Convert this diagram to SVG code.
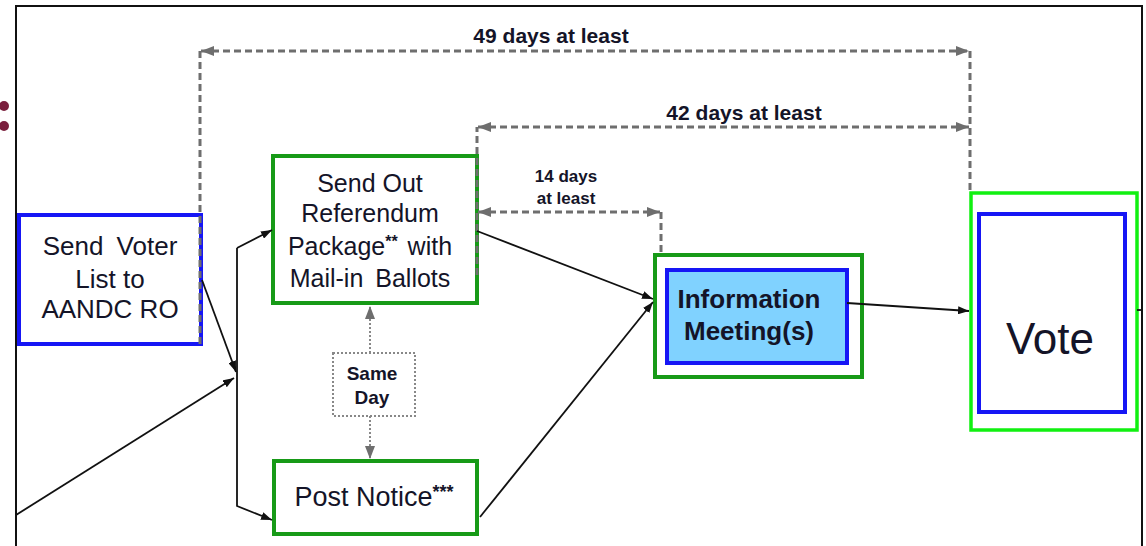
<svg xmlns="http://www.w3.org/2000/svg" width="1146" height="546" viewBox="0 0 1146 546">
<defs>
<marker id="ah" markerUnits="userSpaceOnUse" markerWidth="11" markerHeight="8" refX="11" refY="4" orient="auto"><path d="M0,0 L11,4 L0,8 z" fill="#111"/></marker>
<marker id="gh" markerUnits="userSpaceOnUse" markerWidth="13" markerHeight="10" refX="13" refY="5" orient="auto-start-reverse"><path d="M0,0 L13,5 L0,10 z" fill="#6e6e6e"/></marker>
<style>
.t{font-family:"Liberation Sans",Arial,sans-serif;fill:#141428;text-anchor:middle}
.b{font-weight:bold}
.green{fill:#fff;stroke:#179a17;stroke-width:4}
.blue{fill:#fff;stroke:#1616f5;stroke-width:4}
.lime{fill:#fff;stroke:#11f011;stroke-width:3.5}
.dash{fill:none;stroke:#6e6e6e;stroke-width:3;stroke-dasharray:7 4}
.dot{fill:none;stroke:#888;stroke-width:2;stroke-dasharray:2 2}
.con{fill:none;stroke:#111;stroke-width:1.8}
</style>
</defs>
<rect width="1146" height="546" fill="#fff"/>
<path d="M16,546 V6 H1142 V546" fill="none" stroke="#111" stroke-width="2"/>
<circle cx="4" cy="106" r="5" fill="#7a1f3d"/>
<circle cx="4" cy="126" r="5" fill="#7a1f3d"/>

<g id="send-voter-list">
<rect class="blue" x="19" y="215" width="182" height="129"/>
<text class="t" font-size="26" x="110" y="255" word-spacing="6">Send Voter</text>
<text class="t" font-size="26" x="110" y="288">List to</text>
<text class="t" font-size="26" x="110" y="318">AANDC RO</text>
</g>

<g id="send-out-package">
<rect class="green" x="273" y="156" width="204" height="147"/>
<text class="t" font-size="25" x="370" y="192">Send Out</text>
<text class="t" font-size="25" x="370" y="222">Referendum</text>
<text class="t" font-size="25" x="370" y="255" word-spacing="3">Package<tspan class="b" font-size="16" dy="-8">**</tspan><tspan dy="8"> with</tspan></text>
<text class="t" font-size="25" x="370" y="287" word-spacing="5">Mail-in Ballots</text>
</g>

<g id="post-notice">
<rect class="green" x="274" y="461" width="203" height="73"/>
<text class="t" font-size="27" x="374" y="506">Post Notice<tspan class="b" font-size="18" dy="-8">***</tspan></text>
</g>

<g id="same-day">
<rect class="dot" x="333" y="353" width="82" height="63"/>
<text class="t b" font-size="19" x="372" y="380">Same</text>
<text class="t b" font-size="19" x="372" y="404">Day</text>
</g>

<g id="information-meeting">
<rect class="green" x="655" y="255" width="207" height="122"/>
<rect x="667" y="270" width="180" height="93" fill="#80d2ff" stroke="#1616f5" stroke-width="4"/>
<text class="t b" font-size="26" x="749" y="308">Information</text>
<text class="t b" font-size="26" x="749" y="340">Meeting(s)</text>
</g>

<g id="vote">
<rect class="lime" x="971" y="193" width="166" height="237"/>
<rect class="blue" x="979" y="214" width="146" height="198"/>
<text class="t" font-size="44" x="1050" y="354">Vote</text>
</g>

<g id="timing-labels">
<text class="t b" font-size="21" x="551" y="43">49 days at least</text>
<text class="t b" font-size="21" x="744" y="120">42 days at least</text>
<text class="t b" font-size="17" x="566" y="182">14 days</text>
<text class="t b" font-size="17" x="566" y="204">at least</text>
</g>

<g id="connectors">
<path class="dash" d="M200,344 V51"/>
<path class="dash" d="M201,51 H969" marker-start="url(#gh)" marker-end="url(#gh)"/>
<path class="dash" d="M970,51 V193"/>
<path class="dash" d="M477,275 V127"/>
<path class="dash" d="M478,127 H969" marker-start="url(#gh)" marker-end="url(#gh)"/>
<path class="dash" d="M478,212 H660" marker-start="url(#gh)" marker-end="url(#gh)"/>
<path class="dash" d="M661,212 V255"/>
<path class="dot" d="M370,353 V306" marker-end="url(#gh)"/>
<path class="dot" d="M370,416 V459" marker-end="url(#gh)"/>
<path class="con" d="M202,280 L236,372" marker-end="url(#ah)"/>
<path class="con" d="M16,515 L234,378" marker-end="url(#ah)"/>
<path class="con" d="M237,248 L272,230" marker-end="url(#ah)"/>
<path class="con" d="M237,248 V506 L272,520" marker-end="url(#ah)"/>
<path class="con" d="M477,231 L653,299" marker-end="url(#ah)"/>
<path class="con" d="M480,517 L653,302" marker-end="url(#ah)"/>
<path class="con" d="M847,303 L969,311" marker-end="url(#ah)"/>
<path class="con" d="M1137,310 H1142"/>
</g>
</svg>
